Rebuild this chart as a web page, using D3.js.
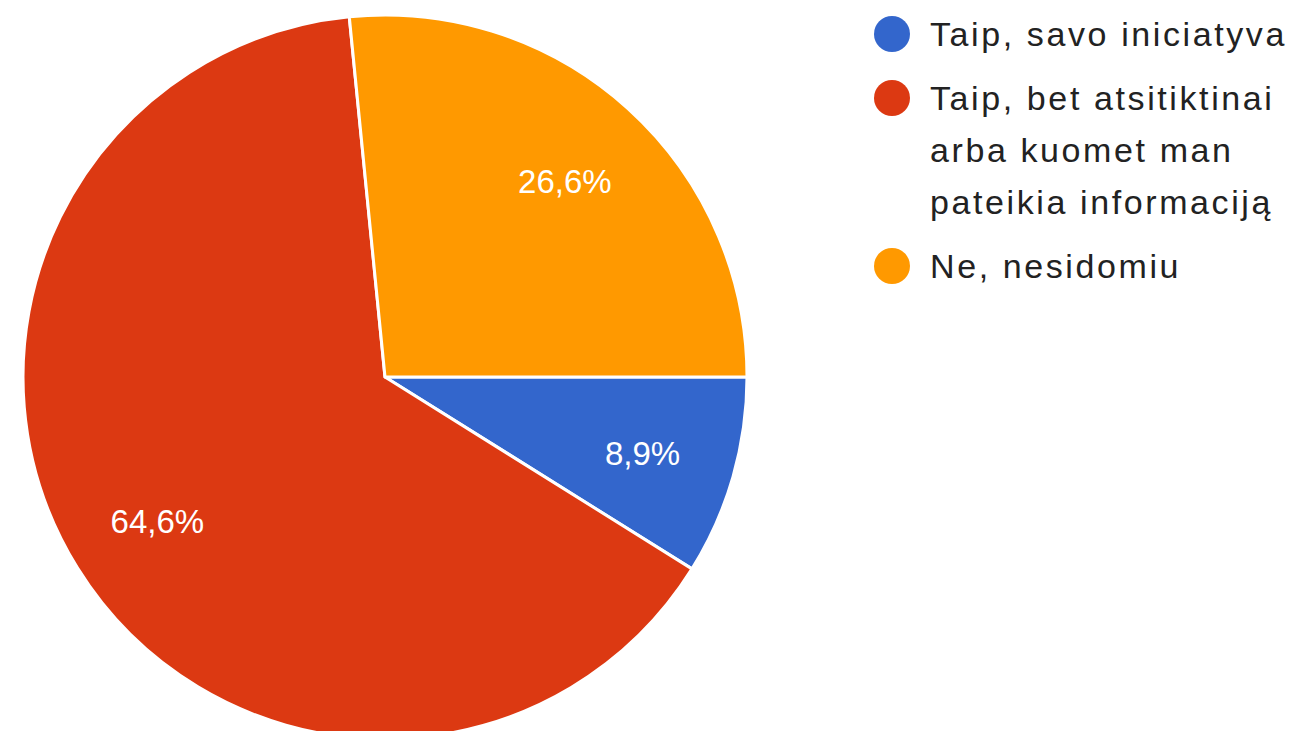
<!DOCTYPE html>
<html>
<head>
<meta charset="utf-8">
<script src="https://cdn.jsdelivr.net/npm/d3@7"></script>
<style>
  body { margin: 0; background: #fff; }
  svg text { font-family: "Liberation Sans", Arial, sans-serif; }
</style>
</head>
<body>
<div id="chart"></div>
<script>
// data
const categories = ["Taip, savo iniciatyva", "Taip, bet atsitiktinai arba kuomet man pateikia informaciją", "Ne, nesidomiu"];
const legendLines = [["Taip, savo iniciatyva"], ["Taip, bet atsitiktinai", "arba kuomet man", "pateikia informaciją"], ["Ne, nesidomiu"]];
const values = [8.9, 64.6, 26.6];
const labels = ["8,9%", "64,6%", "26,6%"];
const colors = ["#3366cc", "#dc3912", "#ff9900"];

const width = 1294;
const height = 731;
const cx = 385, cy = 377, radius = 362;

const svg = d3.select("#chart")
  .append("svg")
  .attr("width", width)
  .attr("height", height);

const pie = d3.pie()
  .sort(null)
  .startAngle(Math.PI / 2)
  .endAngle(Math.PI / 2 + 2 * Math.PI)
  .value((d) => d);

const arc = d3.arc().innerRadius(0).outerRadius(radius);
const labelArc = d3.arc().innerRadius(radius * 0.74).outerRadius(radius * 0.74);

const g = svg.append("g").attr("transform", `translate(${cx},${cy})`);
const arcs = pie(values);

g.selectAll("path")
  .data(arcs)
  .enter()
  .append("path")
  .attr("d", arc)
  .attr("fill", (d, i) => colors[i])
  .attr("stroke", "#fff")
  .attr("stroke-width", 3)
  .attr("stroke-linejoin", "round");

g.selectAll(".slice-label")
  .data(arcs)
  .enter()
  .append("text")
  .attr("class", "slice-label")
  .attr("transform", (d) => {
    const [x, y] = labelArc.centroid(d);
    return `translate(${x},${y + 3})`;
  })
  .attr("text-anchor", "middle")
  .attr("dominant-baseline", "central")
  .attr("fill", "#fff")
  .attr("font-size", 33)
  .text((d, i) => labels[i]);

// legend
const legend = svg.append("g").attr("transform", "translate(892,0)");
let y = 34;
legendLines.forEach((lines, i) => {
  legend.append("circle")
    .attr("cx", 0)
    .attr("cy", y)
    .attr("r", 18)
    .attr("fill", colors[i]);
  lines.forEach((line, j) => {
    legend.append("text")
      .attr("x", 38)
      .attr("y", y + j * 52)
      .attr("dominant-baseline", "central")
      .attr("font-size", 34)
      .attr("letter-spacing", 2.6)
      .attr("fill", "#222")
      .text(line);
  });
  y += lines.length * 52 + 12;
});
</script>
</body>
</html>
